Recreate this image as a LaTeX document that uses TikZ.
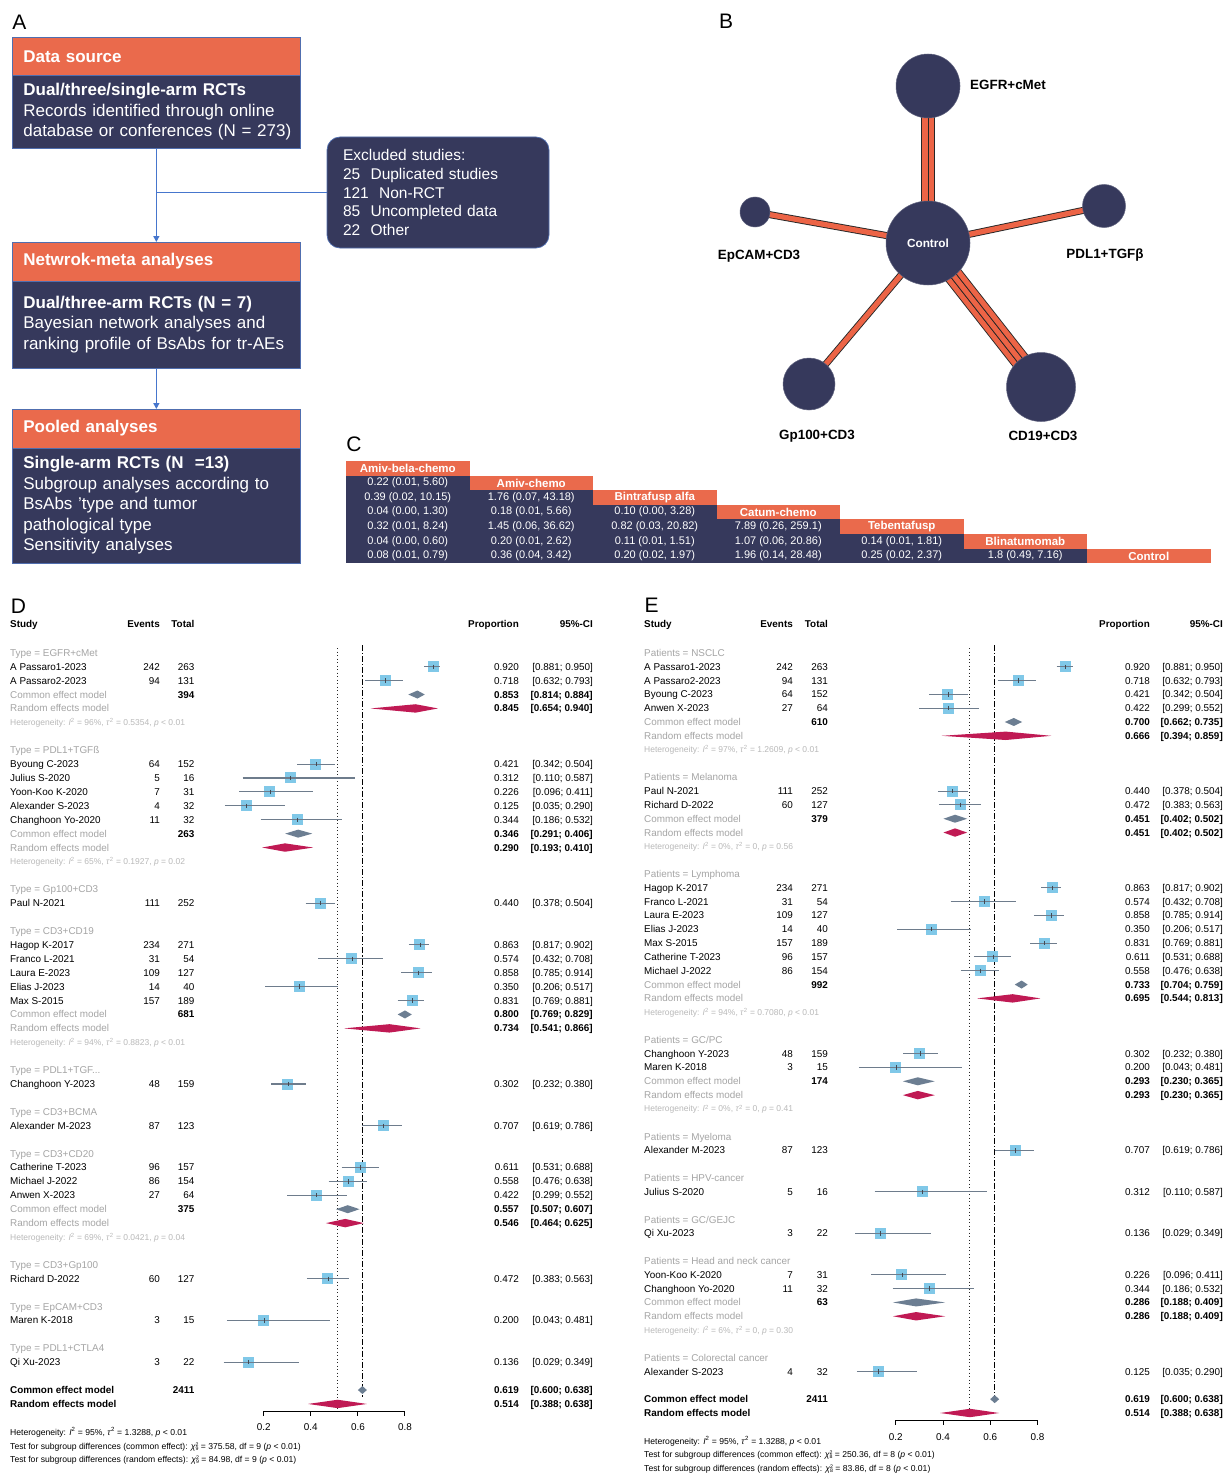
\documentclass[tikz,border=0pt]{standalone}
\usepackage{fontspec}
\setmainfont{Liberation Sans}
\usetikzlibrary{calc,arrows.meta}
\definecolor{navy}{RGB}{54,57,92}
\definecolor{coral}{RGB}{234,106,76}
\definecolor{boxedge}{RGB}{80,110,175}
\definecolor{arrowblue}{RGB}{70,118,205}
\definecolor{edgeor}{RGB}{236,100,70}
\definecolor{sqblue}{RGB}{128,200,232}
\definecolor{cigray}{RGB}{110,124,140}
\definecolor{comdia}{RGB}{108,126,146}
\definecolor{randia}{RGB}{192,26,84}
\definecolor{grptxt}{RGB}{165,165,165}
\definecolor{hettxt}{RGB}{185,185,185}

\newcommand\fsz[1]{\fontsize{#1}{#1}\selectfont}
% chi-square with small stacked scripts
\newcommand\chisq[1]{\textit{χ}\rlap{\raisebox{2.8pt}{\fsz{5.2}2}}\raisebox{-1.2pt}{\fsz{5.2}#1}}
% forest plot helpers
\newcommand\fY[1]{\pgfmathsetmacro\yy{\yb+(#1-3)*\dy}}
\newcommand\fX[2]{\pgfmathsetmacro#1{\xz+(#2-0.2)*\xs}}
\newcommand\fgrp[2]{\fY{#1}%
  \node[ftx,text=grptxt,anchor=base west] (\pp g#1) at (\cS,\yy+3.5) {#2};}
\newcommand\fst[7]{\fY{#1}\fX\xp{#5}\fX\xl{#6}\fX\xh{#7}%
  \node[ftx,anchor=base west] (\pp s#1) at (\cS,\yy+3.5) {#2};
  \node[ftx,anchor=base east] (\pp e#1) at (\cE,\yy+3.5) {#3};
  \node[ftx,anchor=base east] (\pp t#1) at (\cT,\yy+3.5) {#4};
  \node[ftx,anchor=base east] (\pp p#1) at (\cP,\yy+3.5) {#5};
  \node[ftx,anchor=base east] (\pp c#1) at (\cC,\yy+3.5) {[#6; #7]};
  \node[sq] (\pp q#1) at (\xp,\yy) {};
  \draw[cisty] (\xl,\yy) -- (\xh,\yy);
  \draw[ctick] (\xp,\yy-2.2) -- (\xp,\yy+2.2);}
\newcommand\fcom[6]{\fY{#1}\fX\xp{#4}\fX\xl{#5}\fX\xh{#6}%
  \node[ftx,#2,anchor=base west] (\pp s#1) at (\cS,\yy+3.5) {Common effect model};
  \node[ftb,anchor=base east] (\pp t#1) at (\cT,\yy+3.5) {#3};
  \node[ftb,anchor=base east] (\pp p#1) at (\cP,\yy+3.5) {#4};
  \node[ftb,anchor=base east] (\pp c#1) at (\cC,\yy+3.5) {[#5; #6]};
  \fill[comdia] (\xl,\yy) -- (\xp,\yy-4) -- (\xh,\yy) -- (\xp,\yy+4) -- cycle;}
\newcommand\frnd[5]{\fY{#1}\fX\xp{#3}\fX\xl{#4}\fX\xh{#5}%
  \node[ftx,#2,anchor=base west] (\pp s#1) at (\cS,\yy+3.5) {Random effects model};
  \node[ftb,anchor=base east] (\pp p#1) at (\cP,\yy+3.5) {#3};
  \node[ftb,anchor=base east] (\pp c#1) at (\cC,\yy+3.5) {[#4; #5]};
  \fill[randia] (\xl,\yy) -- (\xp,\yy-4.2) -- (\xh,\yy) -- (\xp,\yy+4.2) -- cycle;}
\newcommand\fhet[4]{\fY{#1}%
  \node[hetsty,anchor=base west] (\pp h#1) at (\cS,\yy+3) {Heterogeneity: \textit{I}\textsuperscript{2} = #2, \textit{τ}\textsuperscript{2} = #3, \textit{p} #4};}
\newcommand\fhead{%
  \node[ftb,anchor=base west] (\pp H1) at (\cS,627.8) {Study};
  \node[ftb,anchor=base east] (\pp H2) at (\cE,627.8) {Events};
  \node[ftb,anchor=base east] (\pp H3) at (\cT,627.8) {Total};
  \node[ftb,anchor=base east] (\pp H4) at (\cP,627.8) {Proportion};
  \node[ftb,anchor=base east] (\pp H5) at (\cC,627.8) {95\%-CI};}
\newcommand\faxis[2]{\fX\xa{0.2}\fX\xb{0.8}%
  \draw[axsty] (\xa,#1) -- (\xb,#1);
  \foreach \v [count=\i] in {0.2,0.4,0.6,0.8}{\fX\xt{\v}%
    \draw[axsty] (\xt,#1) -- (\xt,#1+5);
    \node[ftx,anchor=base] (\pp x\i) at (\xt,#2+3.5) {\v};}}
\newcommand\fvlines[4]{\fX\xr{0.514}\fX\xc{0.619}%
  \draw[dotsty] (\xr,#1) -- (\xr,#2);
  \draw[ddsty] (\xc,#3) -- (\xc,#4);}
\newcommand\ffoot[3]{\node[footsty,anchor=base west] (\pp f#1) at (\cS,#2+3) {#3};}
% network edge: n parallel strands, each orange with black borders
\newcommand\bedge[3]{%
  \foreach \k in {1,...,#3}{%
    \pgfmathsetmacro\off{(\k-(#3+1)/2)*6.2}%
    \draw[bstrand] ($(#1)!\off pt!90:(#2)$) -- ($(#2)!\off pt!-90:(#1)$);}}
% league table cell
\newcommand\ccell[3]{\node[ccel] (cc#1#2) at ({\cx+(#2+0.5)*\cw},{\cy+(#1+0.5)*\ch}) {#3};}

\begin{document}
\begin{tikzpicture}[x=1pt,y=-1pt,
  plab/.style={inner sep=0pt,font=\fsz{21}},
  hdr/.style={fill=coral,draw=boxedge,line width=0.7pt,anchor=north west,text width=266pt,inner xsep=11pt,inner ysep=0pt,minimum height=38.5pt,align=left,text=white,font=\bfseries\fsz{17}},
  bod/.style={fill=navy,draw=boxedge,line width=0.7pt,anchor=north west,text width=266pt,inner xsep=11pt,inner ysep=0pt,align=left,text=white,font=\fontsize{17}{20.5}\selectfont},
  excl/.style={fill=navy,draw=boxedge,line width=0.7pt,rounded corners=13pt,minimum height=111pt,text width=190pt,inner xsep=16pt,align=left,text=white,font=\fontsize{15.5}{18.75}\selectfont},
  arr/.style={draw=arrowblue,line width=1.3pt,-{Triangle[width=6pt,length=6pt]}},
  conn/.style={draw=arrowblue,line width=1.3pt},
  bstrand/.style={draw=black!85,line width=0.9pt,double=edgeor,double distance=5.2pt},
  bcirc/.style={circle,fill=navy,draw=navy!80!white,line width=0.5pt,inner sep=0pt,text=white},
  blab/.style={inner sep=0pt,font=\bfseries\fsz{13.4}},
  chd/.style={fill=coral,minimum width=123.5pt,minimum height=14.6pt,inner sep=0pt,text=white,font=\bfseries\fsz{11.5}},
  ccel/.style={inner sep=0pt,text=white,font=\fsz{11}},
  ftx/.style={inner sep=0pt,font=\fsz{9.9}},
  ftb/.style={inner sep=0pt,font=\bfseries\fsz{9.9}},
  grpl/.style={text=grptxt},
  totl/.style={font=\bfseries\fsz{9.9}},
  hetsty/.style={inner sep=0pt,text=hettxt,font=\fsz{8.5}},
  footsty/.style={inner sep=0pt,font=\fsz{8.6},text height=6.3pt,text depth=0.8pt},
  sq/.style={rectangle,fill=sqblue,minimum size=11pt,inner sep=0pt},
  cisty/.style={draw=cigray,line width=1.1pt},
  ctick/.style={draw=cigray!60!black,line width=0.6pt},
  axsty/.style={draw=black,line width=1pt},
  dotsty/.style={draw=black!85,line width=0.9pt,dash pattern=on 0.9pt off 2.6pt},
  ddsty/.style={draw=black,line width=1.3pt,dash pattern=on 6pt off 2pt on 1.2pt off 2pt}
]
\fill[white] (0,0) rectangle (1227,1474);
\useasboundingbox (0,0) rectangle (1227,1474);

% ---------------- Panel letters
\node[plab] (lA) at (19.5,22) {A};
\node[plab] (lB) at (726,21) {B};
\node[plab] (lC) at (354,444) {C};
\node[plab] (lD) at (18.5,606) {D};
\node[plab] (lE) at (651.5,605) {E};

% ---------------- Panel A
\node[hdr] (h1) at (12,37) {Data source};
\node[bod,minimum height=72.5pt] (b1) at (12,75.5) {\mbox{\textbf{Dual/three/single-arm RCTs}}\\\mbox{Records identified through online}\\\mbox{database or conferences (N = 273)}};
\node[hdr] (h2) at (12,242) {Netwrok-meta analyses};
\node[bod,minimum height=87.5pt] (b2) at (12,280.5) {\mbox{\textbf{Dual/three-arm RCTs (N = 7)}}\\\mbox{Bayesian network analyses and}\\\mbox{ranking profile of BsAbs for tr-AEs}};
\node[hdr] (h3) at (12,409) {Pooled analyses};
\node[bod,minimum height=115.5pt] (b3) at (12,447.5) {\mbox{\textbf{Single-arm RCTs (N~~=13)}}\\\mbox{Subgroup analyses according to}\\\mbox{BsAbs ’type and tumor}\\\mbox{pathological type}\\\mbox{Sensitivity analyses}};
\node[excl] (excl) at (438,192.5) {Excluded studies:\\25~~Duplicated studies\\121~~Non-RCT\\85~~Uncompleted data\\22~~Other};
\draw[arr] (b1.south) -- (h2.north);
\draw[arr] (b2.south) -- (h3.north);
\coordinate (split) at (b1.south |- excl.west);
\draw[conn] (split) -- (excl.west);

% ---------------- Panel B
\coordinate (bC) at (928,243);
\coordinate (bE) at (928,86);
\coordinate (bP) at (1104,206);
\coordinate (bM) at (755,212);
\coordinate (bG) at (809,384);
\coordinate (bD) at (1041,387);
\bedge{bC}{bE}{2}
\bedge{bC}{bP}{1}
\bedge{bC}{bM}{1}
\bedge{bC}{bG}{1}
\bedge{bC}{bD}{3}
\node[bcirc,minimum size=84pt,font=\bfseries\fsz{11.8}] (nC) at (bC) {Control};
\node[bcirc,minimum size=64pt] (nE) at (bE) {};
\node[bcirc,minimum size=43pt] (nP) at (bP) {};
\node[bcirc,minimum size=30pt] (nM) at (bM) {};
\node[bcirc,minimum size=52pt] (nG) at (bG) {};
\node[bcirc,minimum size=69pt] (nD) at (bD) {};
\node[blab] (tE) at (1008,85) {EGFR+cMet};
\node[blab] (tM) at (759,256) {EpCAM+CD3};
\node[blab] (tP) at (1105,255) {PDL1+TGFβ};
\node[blab] (tG) at (817,436) {Gp100+CD3};
\node[blab] (tD) at (1043,436) {CD19+CD3};

% ---------------- Panel C
\def\cx{346}\def\cw{123.5}\def\cy{461}\def\ch{14.6}
\foreach \k in {0,...,5}{\fill[navy] ({\cx+\k*\cw},{\cy+(\k+1)*\ch}) rectangle ({\cx+(\k+1)*\cw},{\cy+7*\ch});}
\foreach \k/\nm in {0/Amiv-bela-chemo,1/Amiv-chemo,2/Bintrafusp alfa,3/Catum-chemo,4/Tebentafusp,5/Blinatumomab,6/Control}{%
  \node[chd] (ch\k) at ({\cx+(\k+0.5)*\cw},{\cy+(\k+0.5)*\ch}) {\nm};}
\ccell{1}{0}{0.22 (0.01, 5.60)}
\ccell{2}{0}{0.39 (0.02, 10.15)}\ccell{2}{1}{1.76 (0.07, 43.18)}
\ccell{3}{0}{0.04 (0.00, 1.30)}\ccell{3}{1}{0.18 (0.01, 5.66)}\ccell{3}{2}{0.10 (0.00, 3.28)}
\ccell{4}{0}{0.32 (0.01, 8.24)}\ccell{4}{1}{1.45 (0.06, 36.62)}\ccell{4}{2}{0.82 (0.03, 20.82)}\ccell{4}{3}{7.89 (0.26, 259.1)}
\ccell{5}{0}{0.04 (0.00, 0.60)}\ccell{5}{1}{0.20 (0.01, 2.62)}\ccell{5}{2}{0.11 (0.01, 1.51)}\ccell{5}{3}{1.07 (0.06, 20.86)}\ccell{5}{4}{0.14 (0.01, 1.81)}
\ccell{6}{0}{0.08 (0.01, 0.79)}\ccell{6}{1}{0.36 (0.04, 3.42)}\ccell{6}{2}{0.20 (0.02, 1.97)}\ccell{6}{3}{1.96 (0.14, 28.48)}\ccell{6}{4}{0.25 (0.02, 2.37)}\ccell{6}{5}{1.8 (0.49, 7.16)}

% ---------------- Panel D
\def\pp{D}\def\yb{666.7}\def\dy{13.91}\def\xz{263.8}\def\xs{235.3}
\def\cS{10}\def\cE{160}\def\cT{194.5}\def\cP{519}\def\cC{593}
\fhead
\fvlines{648}{1410}{645}{1397}
\fgrp{2}{Type = EGFR+cMet}
\fst{3}{A Passaro1-2023}{242}{263}{0.920}{0.881}{0.950}
\fst{4}{A Passaro2-2023}{94}{131}{0.718}{0.632}{0.793}
\fcom{5}{grpl}{394}{0.853}{0.814}{0.884}
\frnd{6}{grpl}{0.845}{0.654}{0.940}
\fhet{7}{96\%}{0.5354}{< 0.01}
\fgrp{9}{Type = PDL1+TGFß}
\fst{10}{Byoung C-2023}{64}{152}{0.421}{0.342}{0.504}
\fst{11}{Julius S-2020}{5}{16}{0.312}{0.110}{0.587}
\fst{12}{Yoon-Koo K-2020}{7}{31}{0.226}{0.096}{0.411}
\fst{13}{Alexander S-2023}{4}{32}{0.125}{0.035}{0.290}
\fst{14}{Changhoon Yo-2020}{11}{32}{0.344}{0.186}{0.532}
\fcom{15}{grpl}{263}{0.346}{0.291}{0.406}
\frnd{16}{grpl}{0.290}{0.193}{0.410}
\fhet{17}{65\%}{0.1927}{= 0.02}
\fgrp{19}{Type = Gp100+CD3}
\fst{20}{Paul N-2021}{111}{252}{0.440}{0.378}{0.504}
\fgrp{22}{Type = CD3+CD19}
\fst{23}{Hagop K-2017}{234}{271}{0.863}{0.817}{0.902}
\fst{24}{Franco L-2021}{31}{54}{0.574}{0.432}{0.708}
\fst{25}{Laura E-2023}{109}{127}{0.858}{0.785}{0.914}
\fst{26}{Elias J-2023}{14}{40}{0.350}{0.206}{0.517}
\fst{27}{Max S-2015}{157}{189}{0.831}{0.769}{0.881}
\fcom{28}{grpl}{681}{0.800}{0.769}{0.829}
\frnd{29}{grpl}{0.734}{0.541}{0.866}
\fhet{30}{94\%}{0.8823}{< 0.01}
\fgrp{32}{Type = PDL1+TGF...}
\fst{33}{Changhoon Y-2023}{48}{159}{0.302}{0.232}{0.380}
\fgrp{35}{Type = CD3+BCMA}
\fst{36}{Alexander M-2023}{87}{123}{0.707}{0.619}{0.786}
\fgrp{38}{Type = CD3+CD20}
\fst{39}{Catherine T-2023}{96}{157}{0.611}{0.531}{0.688}
\fst{40}{Michael J-2022}{86}{154}{0.558}{0.476}{0.638}
\fst{41}{Anwen X-2023}{27}{64}{0.422}{0.299}{0.552}
\fcom{42}{grpl}{375}{0.557}{0.507}{0.607}
\frnd{43}{grpl}{0.546}{0.464}{0.625}
\fhet{44}{69\%}{0.0421}{= 0.04}
\fgrp{46}{Type = CD3+Gp100}
\fst{47}{Richard D-2022}{60}{127}{0.472}{0.383}{0.563}
\fgrp{49}{Type = EpCAM+CD3}
\fst{50}{Maren K-2018}{3}{15}{0.200}{0.043}{0.481}
\fgrp{52}{Type = PDL1+CTLA4}
\fst{53}{Qi Xu-2023}{3}{22}{0.136}{0.029}{0.349}
\fcom{55}{totl}{2411}{0.619}{0.600}{0.638}
\frnd{56}{totl}{0.514}{0.388}{0.638}
\faxis{1411}{1427}
\ffoot{1}{1432}{Heterogeneity: \textit{I}\textsuperscript{2} = 95\%, \textit{τ}\textsuperscript{2} = 1.3288, \textit{p} < 0.01}
\ffoot{2}{1446}{Test for subgroup differences (common effect): \chisq{9} = 375.58, df = 9 (\textit{p} < 0.01)}
\ffoot{3}{1459}{Test for subgroup differences (random effects): \chisq{9} = 84.98, df = 9 (\textit{p} < 0.01)}

% ---------------- Panel E
\def\pp{E}\def\yb{666.7}\def\dy{13.82}\def\xz{895.8}\def\xs{236}
\def\cS{644}\def\cE{793}\def\cT{828}\def\cP{1150}\def\cC{1223}
\fhead
\fvlines{648}{1417}{645}{1403}
\fgrp{2}{Patients = NSCLC}
\fst{3}{A Passaro1-2023}{242}{263}{0.920}{0.881}{0.950}
\fst{4}{A Passaro2-2023}{94}{131}{0.718}{0.632}{0.793}
\fst{5}{Byoung C-2023}{64}{152}{0.421}{0.342}{0.504}
\fst{6}{Anwen X-2023}{27}{64}{0.422}{0.299}{0.552}
\fcom{7}{grpl}{610}{0.700}{0.662}{0.735}
\frnd{8}{grpl}{0.666}{0.394}{0.859}
\fhet{9}{97\%}{1.2609}{< 0.01}
\fgrp{11}{Patients = Melanoma}
\fst{12}{Paul N-2021}{111}{252}{0.440}{0.378}{0.504}
\fst{13}{Richard D-2022}{60}{127}{0.472}{0.383}{0.563}
\fcom{14}{grpl}{379}{0.451}{0.402}{0.502}
\frnd{15}{grpl}{0.451}{0.402}{0.502}
\fhet{16}{0\%}{0}{= 0.56}
\fgrp{18}{Patients = Lymphoma}
\fst{19}{Hagop K-2017}{234}{271}{0.863}{0.817}{0.902}
\fst{20}{Franco L-2021}{31}{54}{0.574}{0.432}{0.708}
\fst{21}{Laura E-2023}{109}{127}{0.858}{0.785}{0.914}
\fst{22}{Elias J-2023}{14}{40}{0.350}{0.206}{0.517}
\fst{23}{Max S-2015}{157}{189}{0.831}{0.769}{0.881}
\fst{24}{Catherine T-2023}{96}{157}{0.611}{0.531}{0.688}
\fst{25}{Michael J-2022}{86}{154}{0.558}{0.476}{0.638}
\fcom{26}{grpl}{992}{0.733}{0.704}{0.759}
\frnd{27}{grpl}{0.695}{0.544}{0.813}
\fhet{28}{94\%}{0.7080}{< 0.01}
\fgrp{30}{Patients = GC/PC}
\fst{31}{Changhoon Y-2023}{48}{159}{0.302}{0.232}{0.380}
\fst{32}{Maren K-2018}{3}{15}{0.200}{0.043}{0.481}
\fcom{33}{grpl}{174}{0.293}{0.230}{0.365}
\frnd{34}{grpl}{0.293}{0.230}{0.365}
\fhet{35}{0\%}{0}{= 0.41}
\fgrp{37}{Patients = Myeloma}
\fst{38}{Alexander M-2023}{87}{123}{0.707}{0.619}{0.786}
\fgrp{40}{Patients = HPV-cancer}
\fst{41}{Julius S-2020}{5}{16}{0.312}{0.110}{0.587}
\fgrp{43}{Patients = GC/GEJC}
\fst{44}{Qi Xu-2023}{3}{22}{0.136}{0.029}{0.349}
\fgrp{46}{Patients = Head and neck cancer}
\fst{47}{Yoon-Koo K-2020}{7}{31}{0.226}{0.096}{0.411}
\fst{48}{Changhoon Yo-2020}{11}{32}{0.344}{0.186}{0.532}
\fcom{49}{grpl}{63}{0.286}{0.188}{0.409}
\frnd{50}{grpl}{0.286}{0.188}{0.409}
\fhet{51}{6\%}{0}{= 0.30}
\fgrp{53}{Patients = Colorectal cancer}
\fst{54}{Alexander S-2023}{4}{32}{0.125}{0.035}{0.290}
\fcom{56}{totl}{2411}{0.619}{0.600}{0.638}
\frnd{57}{totl}{0.514}{0.388}{0.638}
\faxis{1420}{1436.7}
\ffoot{1}{1441}{Heterogeneity: \textit{I}\textsuperscript{2} = 95\%, \textit{τ}\textsuperscript{2} = 1.3288, \textit{p} < 0.01}
\ffoot{2}{1454}{Test for subgroup differences (common effect): \chisq{8} = 250.36, df = 8 (\textit{p} < 0.01)}
\ffoot{3}{1468}{Test for subgroup differences (random effects): \chisq{8} = 83.86, df = 8 (\textit{p} < 0.01)}
\end{tikzpicture}
\end{document}
